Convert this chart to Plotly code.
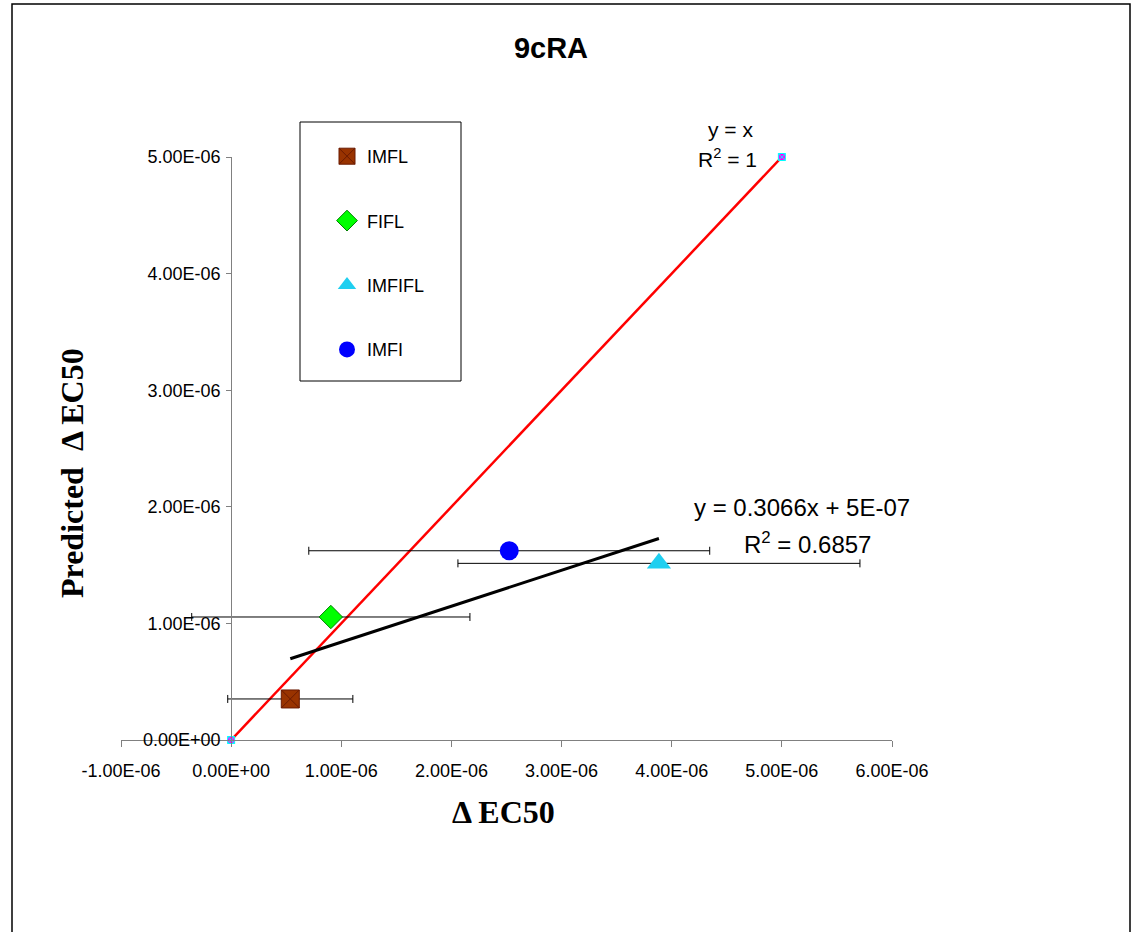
import numpy as np
import plotly.graph_objects as go

# ---- data ----
series_names = ["IMFL", "FIFL", "IMFIFL", "IMFI"]
delta_ec50 = [0.537e-6, 0.905e-6, 3.884e-6, 2.525e-6]
predicted_ec50 = [0.352e-6, 1.055e-6, 1.515e-6, 1.623e-6]
delta_ec50_err = [0.568e-6, 1.263e-6, 1.825e-6, 1.82e-6]

identity_x = [0.0, 5e-6]
identity_y = [0.0, 5e-6]

x_tick_vals = [-1e-6, 0, 1e-6, 2e-6, 3e-6, 4e-6, 5e-6, 6e-6]
x_tick_text = ["-1.00E-06", "0.00E+00", "1.00E-06", "2.00E-06", "3.00E-06",
               "4.00E-06", "5.00E-06", "6.00E-06"]
y_tick_vals = [0, 1e-6, 2e-6, 3e-6, 4e-6, 5e-6]
y_tick_text = ["0.00E+00", "1.00E-06", "2.00E-06", "3.00E-06", "4.00E-06", "5.00E-06"]

# ---- styles ----
styles = {
    "IMFL": dict(symbol="square-x", size=18, color="#993300", line=dict(color="#6b1a00", width=1)),
    "FIFL": dict(symbol="diamond", size=18, color="#00FF00", line=dict(color="#008000", width=1)),
    "IMFIFL": dict(symbol="triangle-up", size=21, color="#1FCFF0", line=dict(color="#1FCFF0", width=0)),
    "IMFI": dict(symbol="circle", size=19, color="#0000FF", line=dict(color="#0000FF", width=0)),
}

SANS = "Arial, Liberation Sans, sans-serif"
SERIF = "Times New Roman, Liberation Serif, serif"

fig = go.Figure()

# y = x reference line
fig.add_trace(go.Scatter(
    x=identity_x, y=identity_y, mode="lines+markers",
    line=dict(color="#FF0000", width=2.5),
    marker=dict(symbol="square-x", size=7, color="#FF00FF", line=dict(color="#00FFFF", width=1)),
    showlegend=False, cliponaxis=False, hoverinfo="skip"))

# linear trendline fitted to the four points
slope, intercept = np.polyfit(delta_ec50, predicted_ec50, 1)
tx = np.array([min(delta_ec50), max(delta_ec50)])
fig.add_trace(go.Scatter(
    x=tx, y=slope * tx + intercept, mode="lines",
    line=dict(color="#000000", width=3),
    showlegend=False, hoverinfo="skip"))

for i, name in enumerate(series_names):
    st = styles[name]
    fig.add_trace(go.Scatter(
        x=[delta_ec50[i]], y=[predicted_ec50[i]], mode="markers", name=name,
        legendgroup=name,
        marker=dict(symbol=st["symbol"], size=st["size"], color=st["color"], line=st["line"]),
        error_x=dict(type="data", array=[delta_ec50_err[i]], color="#000000",
                     thickness=1, width=4),
        cliponaxis=False))

L, R, T, B = 121, 892, 157, 740          # plot area in screenshot pixels
W, H = 1133, 932
pw, ph = R - L, B - T


def px(xp):
    return (xp - L) / pw


def py(yp):
    return (B - yp) / ph


fig.update_layout(
    width=W, height=H,
    margin=dict(l=L, r=W - R, t=T, b=H - B, pad=0),
    paper_bgcolor="white", plot_bgcolor="white",
    font=dict(family=SANS, size=18, color="#000000"),
    title=dict(text="<b>9cRA</b>", x=551 / W, xanchor="center",
               y=1 - 48 / H, yanchor="middle",
               font=dict(family=SANS, size=29, color="#000000")),
    xaxis=dict(range=[-1e-6, 6e-6], tickvals=x_tick_vals, ticktext=x_tick_text,
               showgrid=False, zeroline=False, showline=True, linecolor="#808080", linewidth=1,
               ticks="outside", ticklen=6, tickcolor="#808080",
               tickfont=dict(family=SANS, size=18), ticklabelstandoff=8),
    yaxis=dict(range=[0, 5e-6], tickvals=y_tick_vals, ticktext=y_tick_text,
               anchor="free", position=1 / 7,
               showgrid=False, zeroline=False, showline=True, linecolor="#808080", linewidth=1,
               ticks="outside", ticklen=5, tickcolor="#808080",
               tickfont=dict(family=SANS, size=18), ticklabelstandoff=2),
    legend=dict(x=px(327), y=py(138), xanchor="left", yanchor="top",
                bgcolor="rgba(0,0,0,0)", borderwidth=0, tracegroupgap=38,
                font=dict(family=SANS, size=18)),
    showlegend=True,
)

# outer chart border
fig.add_shape(type="rect", xref="paper", yref="paper",
              x0=px(12), x1=px(1130), y0=py(945), y1=py(4),
              line=dict(color="#000000", width=1.5), layer="below")
# legend box
fig.add_shape(type="rect", xref="paper", yref="paper",
              x0=px(300), x1=px(461), y0=py(381), y1=py(122),
              line=dict(color="#000000", width=1), layer="below")

annots = [
    dict(text="y = x", x=px(730), y=py(130), size=21),
    dict(text="R<sup>2</sup> = 1", x=px(727), y=py(158), size=21),
    dict(text="y = 0.3066x + 5E-07", x=px(802), y=py(507), size=24),
    dict(text="R<sup>2</sup> = 0.6857", x=px(807), y=py(543), size=24),
]
for a in annots:
    fig.add_annotation(xref="paper", yref="paper", showarrow=False,
                       xanchor="center", yanchor="middle", text=a["text"], x=a["x"], y=a["y"],
                       font=dict(family=SANS, size=a["size"], color="#000000"))

# axis titles
fig.add_annotation(text="<b>Δ EC50</b>", xref="paper", yref="paper", x=px(503), y=py(812),
                   showarrow=False, xanchor="center", yanchor="middle",
                   font=dict(family=SERIF, size=32, color="#000000"))
fig.add_annotation(text="<b>Predicted  Δ EC50</b>", xref="paper", yref="paper", x=px(72), y=py(473),
                   showarrow=False, xanchor="center", yanchor="middle", textangle=-90,
                   font=dict(family=SERIF, size=32, color="#000000"))

fig.write_html("out.html", config={"displayModeBar": False},
               post_script="document.body.style.margin='0';document.body.style.overflow='hidden';")
